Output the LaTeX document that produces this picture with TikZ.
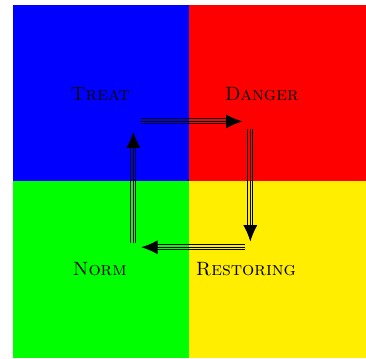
\documentclass[tikz,border=0pt]{standalone}
\usetikzlibrary{arrows.meta}
\definecolor{quadyellow}{RGB}{255,238,0}
\tikzset{
  state/.style={font=\fontsize{12.4}{15}\selectfont\scshape, inner sep=0pt},
  rail/.style={line width=0.6pt, black},
  railtip/.style={rail, -{Latex[length=10.5pt,width=9pt]}},
  railside/.style={rail, shorten >=8pt},
}
\begin{document}
\begin{tikzpicture}
\useasboundingbox (-4.29,-4) rectangle (4,4.11);
% the four quadrants
\fill[blue] (-4,0) rectangle (0,4);
\fill[red] (0,0) rectangle (4,4);
\fill[green] (-4,-4) rectangle (0,0);
\fill[quadyellow] (0,-4) rectangle (4,0);
% states
\node[state] (treat) at (-2.02,1.98) {Treat};
\node[state] (danger) at (1.64,1.98) {Danger};
\node[state] (norm) at (-2.03,-1.99) {Norm};
\node[state] (restoring) at (1.28,-1.99) {Restoring};
% arrow end points
\coordinate (ta) at (-1.09,1.36);
\coordinate (tb) at (1.20,1.36);
\coordinate (ra) at (1.38,1.18);
\coordinate (rb) at (1.38,-1.36);
\coordinate (ba) at (1.27,-1.49);
\coordinate (bb) at (-1.09,-1.49);
\coordinate (la) at (-1.27,-1.40);
\coordinate (lb) at (-1.27,1.13);
% triple-rail arrows
\foreach \a/\b in {ta/tb, ba/bb} {
  \draw[railtip] (\a) -- (\b);
  \draw[railside, transform canvas={yshift=1.6pt}] (\a) -- (\b);
  \draw[railside, transform canvas={yshift=-1.6pt}] (\a) -- (\b);
}
\foreach \a/\b in {ra/rb, la/lb} {
  \draw[railtip] (\a) -- (\b);
  \draw[railside, transform canvas={xshift=1.6pt}] (\a) -- (\b);
  \draw[railside, transform canvas={xshift=-1.6pt}] (\a) -- (\b);
}
\end{tikzpicture}
\end{document}
